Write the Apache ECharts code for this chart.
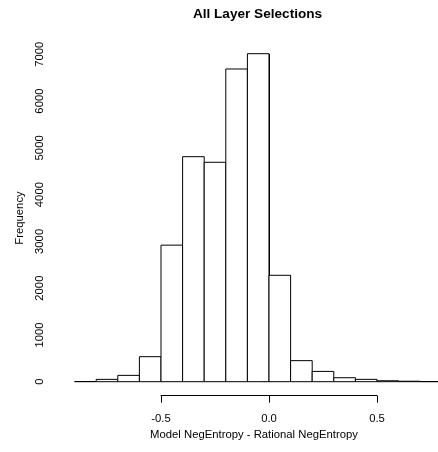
<!DOCTYPE html>
<html>
<head>
<meta charset="utf-8">
<script src="https://cdn.jsdelivr.net/npm/echarts@6/dist/echarts.min.js"></script>
<style>
html,body{margin:0;padding:0;background:#fff;}
#c{width:438px;height:452px;}
</style>
</head>
<body>
<div id="c"></div>
<script>
const binStarts = [-0.9,-0.8,-0.7,-0.6,-0.5,-0.4,-0.3,-0.2,-0.1,0.0,0.1,0.2,0.3,0.4,0.5,0.6,0.7];
const binWidth = 0.1;
const counts = [4,50,135,535,2920,4811,4691,6686,7013,2275,450,220,85,50,20,10,3];
const xTicks = [-0.5, 0.0, 0.5];
const yTicks = [0,1000,2000,3000,4000,5000,6000,7000];
const titleText = 'All Layer Selections';
const xName = 'Model NegEntropy - Rational NegEntropy';
const yName = 'Frequency';

const FONT = 'Liberation Sans, Arial, Helvetica, sans-serif';
const data = binStarts.map((s, i) => [s, +(s + binWidth).toFixed(2), counts[i]]);

const chart = echarts.init(document.getElementById('c'), null, {renderer: 'canvas'});
chart.setOption({
  backgroundColor: '#ffffff',
  animation: false,
  grid: {left: 161, right: 61, top: 54.3, bottom: 70.3, containLabel: false},
  xAxis: {
    type: 'value', min: xTicks[0], max: xTicks[xTicks.length - 1], interval: 0.5,
    offset: 14,
    axisLine: {show: true, onZero: false, lineStyle: {color: '#000', width: 1}},
    axisTick: {show: true, length: 7, lineStyle: {color: '#000', width: 1}},
    axisLabel: {color: '#000', fontFamily: FONT, fontSize: 11.3, margin: 17.5,
      formatter: v => v.toFixed(1)},
    splitLine: {show: false}
  },
  yAxis: {
    type: 'value', min: yTicks[0], max: yTicks[yTicks.length - 1], interval: 1000,
    offset: 100,
    axisLine: {show: true, lineStyle: {color: '#000', width: 1}},
    axisTick: {show: true, length: 7, lineStyle: {color: '#000', width: 1}},
    axisLabel: {color: '#000', fontFamily: FONT, fontSize: 11.3, margin: 16, rotate: 90,
      formatter: v => String(v)},
    splitLine: {show: false},
    name: yName, nameLocation: 'middle', nameGap: 36,
    nameTextStyle: {color: '#000', fontFamily: FONT, fontSize: 11.3}
  },
  graphic: [
    {type: 'text', x: 257.5, y: 14, z: 10,
      style: {text: titleText, fill: '#000', font: 'bold 13.6px ' + FONT, textAlign: 'center', textVerticalAlign: 'middle'}},
    {type: 'text', x: 254, y: 435, z: 10,
      style: {text: xName, fill: '#000', font: '11.3px ' + FONT, textAlign: 'center', textVerticalAlign: 'middle'}}
  ],
  series: [{
    type: 'custom',
    clip: false,
    data: data,
    encode: {x: [0, 1], y: 2},
    renderItem: function (params, api) {
      const p0 = api.coord([api.value(0), 0]);
      const p1 = api.coord([api.value(1), api.value(2)]);
      return {
        type: 'rect',
        shape: {x: p0[0], y: p1[1], width: p1[0] - p0[0], height: p0[1] - p1[1]},
        style: {fill: '#fff', stroke: '#000', lineWidth: 1}
      };
    }
  }]
});
</script>
</body>
</html>
